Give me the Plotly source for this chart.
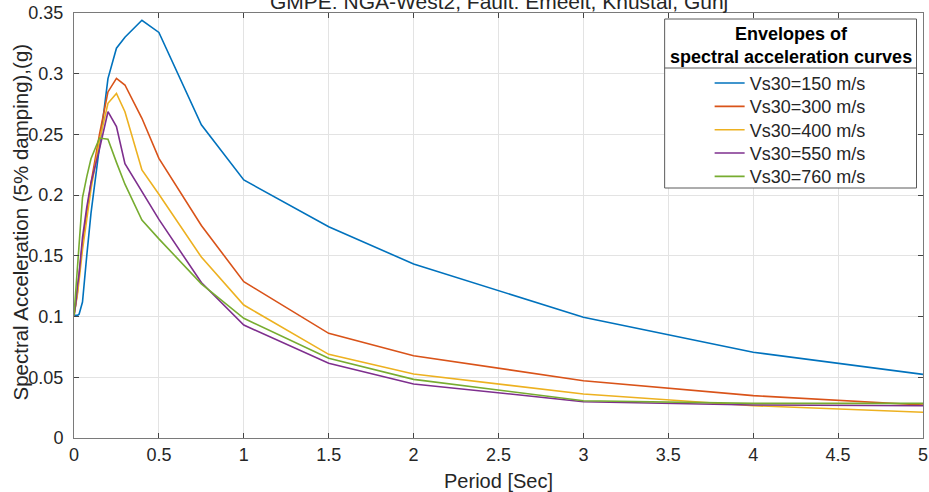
import plotly.graph_objects as go

# ---------------- data ----------------
periods = [0, 0.01, 0.02, 0.03, 0.05, 0.075, 0.1, 0.15, 0.2, 0.25, 0.3, 0.4,
           0.5, 0.75, 1.0, 1.5, 2.0, 3.0, 4.0, 5.0]

sa_150 = [0.101, 0.101, 0.101, 0.102, 0.112, 0.150, 0.185, 0.240, 0.296, 0.321,
          0.330, 0.344, 0.334, 0.258, 0.2125, 0.174, 0.1433, 0.0994, 0.0706, 0.0524]
sa_300 = [0.101, 0.110, 0.120, 0.135, 0.160, 0.185, 0.210, 0.250, 0.285, 0.2962,
          0.2907, 0.2633, 0.2303, 0.175, 0.1287, 0.0862, 0.0678, 0.0472, 0.0349, 0.0272]
sa_400 = [0.101, 0.108, 0.118, 0.130, 0.155, 0.180, 0.205, 0.245, 0.2756, 0.2838,
          0.2687, 0.2207, 0.2008, 0.149, 0.1095, 0.0689, 0.0527, 0.0362, 0.0266, 0.0212]
sa_550 = [0.101, 0.110, 0.125, 0.135, 0.165, 0.190, 0.210, 0.238, 0.2687, 0.2564,
          0.226, 0.203, 0.180, 0.128, 0.093, 0.0615, 0.0445, 0.0299, 0.0272, 0.0266]
sa_760 = [0.101, 0.120, 0.140, 0.160, 0.198, 0.215, 0.230, 0.247, 0.246, 0.227,
          0.209, 0.1795, 0.164, 0.127, 0.0986, 0.0656, 0.0483, 0.0307, 0.0285, 0.0285]

series_names = ["Vs30=150 m/s", "Vs30=300 m/s", "Vs30=400 m/s",
                "Vs30=550 m/s", "Vs30=760 m/s"]
series_values = [sa_150, sa_300, sa_400, sa_550, sa_760]
series_colors = ["#0072BD", "#D95319", "#EDB120", "#7E2F8E", "#77AC30"]

x_ticks = [0, 0.5, 1, 1.5, 2, 2.5, 3, 3.5, 4, 4.5, 5]
x_tick_labels = ["0", "0.5", "1", "1.5", "2", "2.5", "3", "3.5", "4", "4.5", "5"]
y_ticks = [0, 0.05, 0.1, 0.15, 0.2, 0.25, 0.3, 0.35]
y_tick_labels = ["0", "0.05", "0.1", "0.15", "0.2", "0.25", "0.3", "0.35"]

title_text = "GMPE: NGA-West2, Fault: Emeelt, Khustai, Gunj"
legend_title = "Envelopes of<br>spectral acceleration curves"
x_title = "Period [Sec]"
y_title = "Spectral Acceleration (5% damping),(g)"

# ---------------- figure ----------------
FONT = "Liberation Sans, Arial, Helvetica, sans-serif"
W, H = 929, 492
ML, MR, MT, MB = 74, 5.5, 13, 54
PW, PH = W - ML - MR, H - MT - MB


def px_x(px):
    return (px - ML) / PW


def px_y(py):
    return (H - MB - py) / PH


fig = go.Figure()
legend_layouts = {}
for i, (name, vals, col) in enumerate(zip(series_names, series_values, series_colors)):
    key = "legend" if i == 0 else f"legend{i + 1}"
    fig.add_trace(go.Scatter(x=periods, y=vals, mode="lines", name=name,
                             legend=key, line=dict(color=col, width=1.6)))
    legend_layouts[key] = dict(
        x=px_x(710), y=px_y(83.3 + 23.35 * i), xanchor="left", yanchor="middle",
        bgcolor="rgba(0,0,0,0)", borderwidth=0, itemwidth=30,
        font=dict(family=FONT, size=18, color="#262626"))

axis_common = dict(
    showline=True, linecolor="#7a7a7a", linewidth=1, mirror="ticks",
    ticks="inside", ticklen=5, tickcolor="#444444", tickwidth=1,
    showgrid=True, gridcolor="#e3e3e3", gridwidth=1, zeroline=False,
    tickfont=dict(family=FONT, size=18, color="#262626"),
    ticklabeloverflow="allow",
)

fig.update_layout(
    width=W, height=H,
    margin=dict(l=ML, r=MR, t=MT, b=MB, autoexpand=False),
    paper_bgcolor="white", plot_bgcolor="white",
    font=dict(family=FONT, color="#262626"),
    xaxis=dict(range=[0, 5], tickvals=x_ticks, ticktext=x_tick_labels,
               title=dict(text=x_title, font=dict(family=FONT, size=20, color="#262626"),
                          standoff=10),
               automargin=False, **axis_common),
    yaxis=dict(range=[0, 0.35], tickvals=y_ticks, ticktext=y_tick_labels,
               automargin=False, ticklabelstandoff=6, **axis_common),
    showlegend=True,
    **legend_layouts,
)

# y-axis title
fig.add_annotation(xref="paper", yref="paper", x=px_x(19.5), y=px_y(222),
                   text=y_title, textangle=-90, showarrow=False,
                   xanchor="center", yanchor="middle",
                   font=dict(family=FONT, size=20.5, color="#262626"))

# legend frame, separator and title
fig.add_shape(type="rect", xref="paper", yref="paper",
              x0=px_x(665), x1=px_x(917), y0=px_y(188), y1=px_y(19),
              fillcolor="white", line=dict(color="#5a5a5a", width=1), layer="above")
fig.add_shape(type="line", xref="paper", yref="paper",
              x0=px_x(665), x1=px_x(917), y0=px_y(68), y1=px_y(68),
              line=dict(color="#5a5a5a", width=1), layer="above")
fig.add_annotation(xref="paper", yref="paper", x=px_x(791), y=px_y(45),
                   text="<b>" + legend_title.replace("<br>", "</b><br><b>") + "</b>",
                   showarrow=False, xanchor="center", yanchor="middle",
                   font=dict(family=FONT, size=18, color="#000000"))

# chart title (partly cut off at the top, as in the reference)
fig.add_annotation(xref="paper", yref="paper", x=0.5, y=1, yanchor="bottom",
                   yshift=-2.5, text=title_text, showarrow=False,
                   font=dict(family=FONT, size=21, color="#262626"))

fig.write_html("out.html", config={"displayModeBar": False},
               post_script="document.body.style.margin='0px';")
